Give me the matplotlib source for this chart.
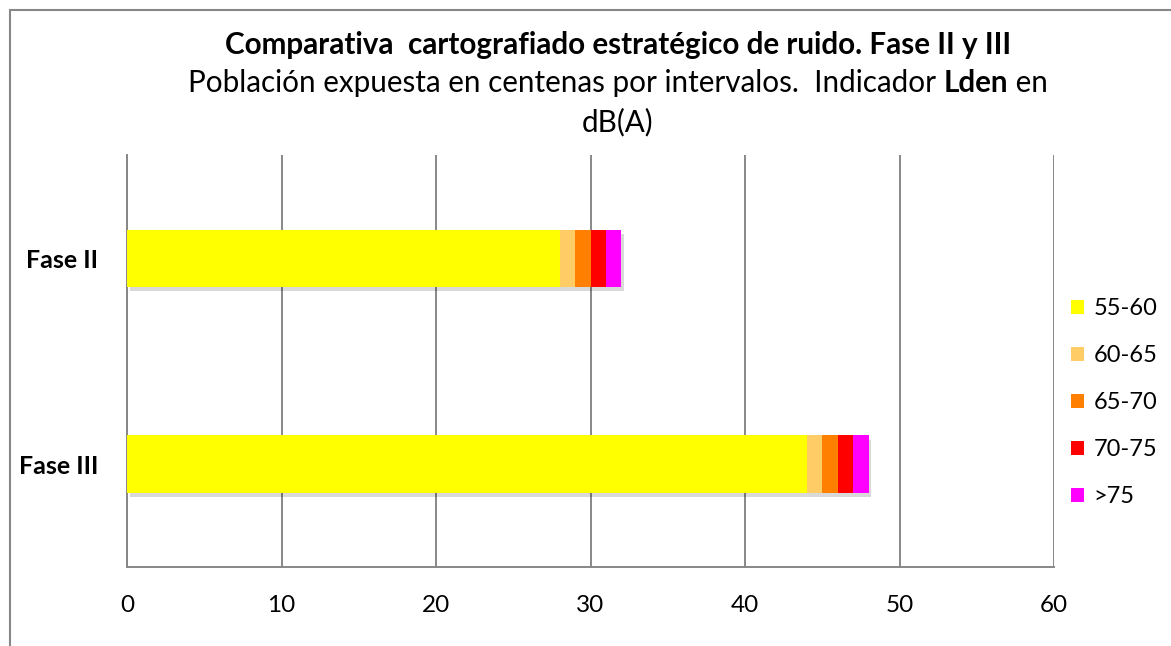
import matplotlib
matplotlib.use("Agg")
import matplotlib.pyplot as plt
import matplotlib.patheffects as pe
from matplotlib.patches import Rectangle
import numpy as np

plt.rcParams['font.family'] = ['Lato', 'DejaVu Sans']

# Data
fases = ['Fase II', 'Fase III']
intervalos = ['55-60', '60-65', '65-70', '70-75', '>75']
valores = {
    '55-60': [28, 44],
    '60-65': [1, 1],
    '65-70': [1, 1],
    '70-75': [1, 1],
    '>75': [1, 1],
}
colores = ['#FFFF00', '#FFCC66', '#FF8000', '#FF0000', '#FF00FF']

fig = plt.figure(figsize=(11.71, 6.46), dpi=100)
ax = fig.add_axes([0.1085, 0.1223, 0.7916, 0.6377])

y = np.arange(len(fases))
left = np.zeros(len(fases))
for name, col in zip(intervalos, colores):
    vals = np.array(valores[name], dtype=float)
    ax.barh(y, vals, left=left, height=0.277, color=col, label=name, zorder=3)
    left += vals
# soft shadow under each stacked bar
for i in range(len(fases)):
    r = Rectangle((0, y[i] - 0.1385), left[i], 0.277, facecolor='none', edgecolor='none', zorder=2,
                  path_effects=[pe.SimplePatchShadow(offset=(2, -3), shadow_rgbFace='black', alpha=0.15)])
    ax.add_patch(r)

ax.set_xlim(0, 60)
ax.set_ylim(1.5, -0.5)
ax.set_xticks(range(0, 61, 10))
ax.set_yticks(y)
ax.set_yticklabels(fases, fontweight='bold', fontsize=18)
ax.tick_params(axis='x', labelsize=17.5, length=0, pad=20)
ax.tick_params(axis='y', length=0, pad=21)
ax.grid(axis='x', color='#878787', linewidth=1.4, zorder=0)
ax.set_axisbelow(True)
for s in ['top', 'right']:
    ax.spines[s].set_visible(False)
for s in ['left', 'bottom']:
    ax.spines[s].set_color('#878787')
    ax.spines[s].set_linewidth(1.4)

leg = fig.legend(loc='upper left', bbox_to_anchor=(1062 / 1171, 1 - 289 / 646), frameon=False,
                 fontsize=17, handlelength=0.55, handleheight=0.55, handletextpad=0.4,
                 labelspacing=1.1, borderaxespad=0)

# outer frame
fig.patches.append(Rectangle((10 / 1171, -0.1), 1.2, 1 - 10 / 646 + 0.1, transform=fig.transFigure,
                             facecolor='none', edgecolor='#878787', linewidth=1.5))

# titles
cx = 618 / 1171
fs = 21.3
fig.text(cx, 1 - 45 / 646, 'Comparativa  cartografiado estratégico de ruido. Fase II y III',
         ha='center', va='center', fontsize=fs, fontweight='bold')

fig.canvas.draw()
r = fig.canvas.get_renderer()
parts = [('Población expuesta en centenas por intervalos.  Indicador ', 'normal'),
         ('Lden', 'bold'), (' en', 'normal')]
tmp = [fig.text(0, 0, t, fontsize=fs, fontweight=w) for t, w in parts]
widths = [t.get_window_extent(r).width for t in tmp]
for t in tmp:
    t.remove()
x0 = cx * 1171 - sum(widths) / 2
for (t, w), wd in zip(parts, widths):
    fig.text(x0 / 1171, 1 - 83 / 646, t, ha='left', va='center', fontsize=fs, fontweight=w)
    x0 += wd
fig.text(cx, 1 - 122 / 646, 'dB(A)', ha='center', va='center', fontsize=fs)

fig.savefig('out.png', dpi=100)
